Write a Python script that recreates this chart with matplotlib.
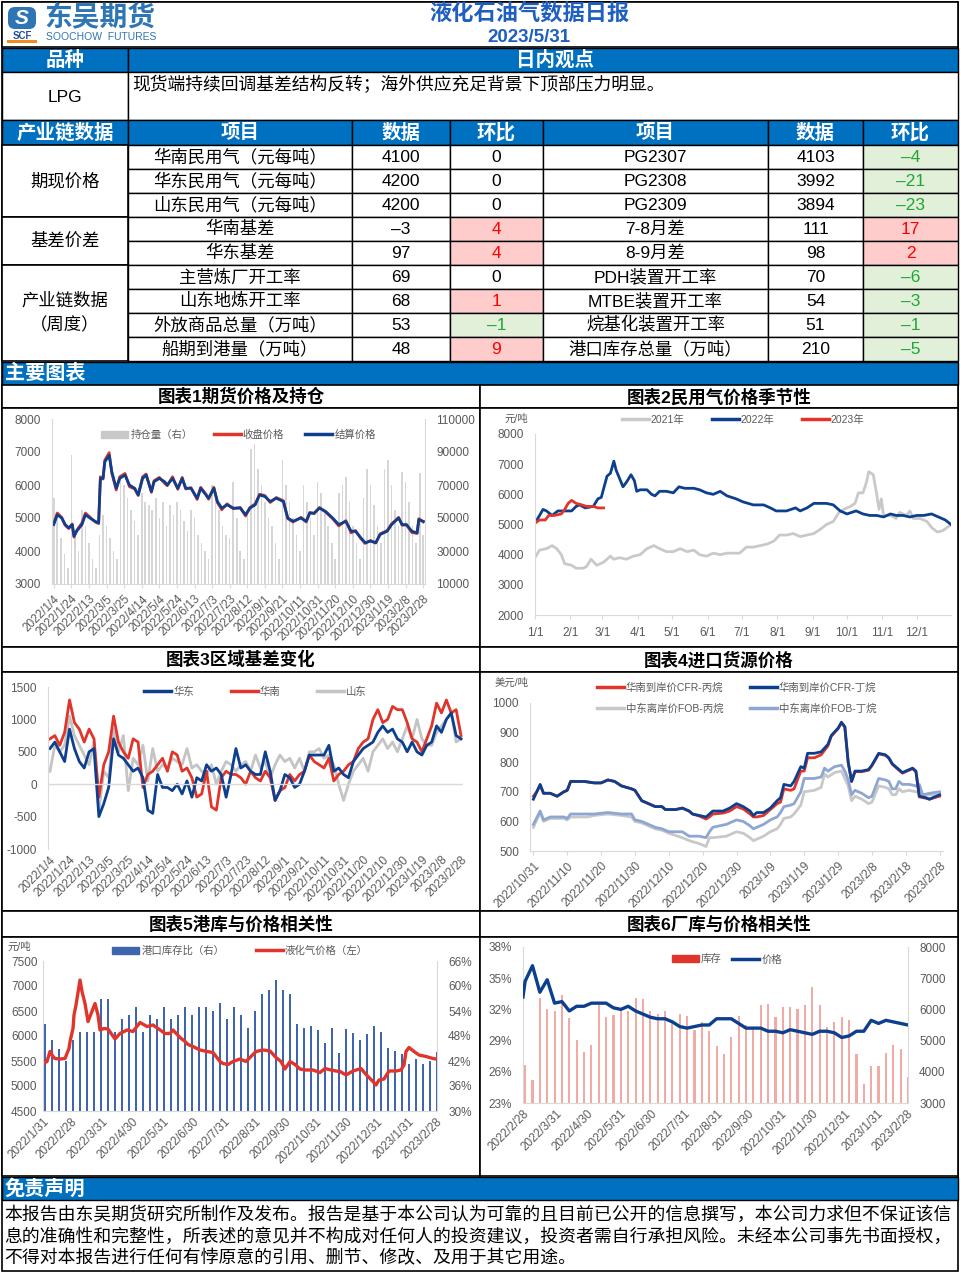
import numpy as np
import pandas as pd
import matplotlib
matplotlib.use('Agg')
import matplotlib.pyplot as plt
from matplotlib.patches import Rectangle, FancyBboxPatch, Patch
from matplotlib.lines import Line2D

plt.rcParams['font.family'] = ['Liberation Sans', 'Noto Sans CJK SC']
plt.rcParams['axes.unicode_minus'] = False

# ---------------- table data ----------------
view_text = '现货端持续回调基差结构反转；海外供应充足背景下顶部压力明显。'
left_items = ['华南民用气（元每吨）', '华东民用气（元每吨）', '山东民用气（元每吨）', '华南基差', '华东基差',
              '主营炼厂开工率', '山东地炼开工率', '外放商品总量（万吨）', '船期到港量（万吨）']
left_values = [4100, 4200, 4200, -3, 97, 69, 68, 53, 48]
left_change = [0, 0, 0, 4, 4, 0, 1, -1, 9]
right_items = ['PG2307', 'PG2308', 'PG2309', '7-8月差', '8-9月差', 'PDH装置开工率', 'MTBE装置开工率',
               '烷基化装置开工率', '港口库存总量（万吨）']
right_values = [4103, 3992, 3894, 111, 98, 70, 54, 51, 210]
right_change = [-4, -21, -23, 17, 2, -6, -3, -1, -5]
groups = [('期现价格', 0, 3), ('基差价差', 3, 5), ('产业链数据\n（周度）', 5, 9)]

# ---------------- chart 1: futures price & open interest ----------------
c1_base = '2022-01-04'
c1_days = [0, 4, 9, 13, 17, 21, 23, 26, 32, 36, 41, 47, 51, 53, 56, 58, 63, 66, 71, 75,
           81, 86, 92, 96, 101, 105, 111, 114, 120, 126, 129, 135, 141, 146, 150, 156, 163, 167, 173, 176,
           182, 186, 191, 197, 204, 212, 218, 223, 229, 234, 240, 246, 253, 261, 266, 272, 281, 287, 291, 296,
           302, 309, 317, 324, 332, 338, 343, 349, 354, 360, 366, 371, 379, 384, 392, 396, 401, 407, 413, 415, 420]
c1_settle = [4800, 5100, 5000, 4800, 4700, 4800, 4450, 4600, 4800, 5100, 5000, 4900, 4850, 6200, 6200,
             6700, 6900, 6400, 5900, 6200, 6300, 6000, 5900, 5700, 6200, 6300, 5800, 6100, 6200, 6100,
             6000, 6200, 5900, 6200, 5900, 5900, 5600, 5900, 5700, 5600, 5900, 5500, 5300, 5400, 5300,
             5300, 5100, 5300, 5400, 5700, 5650, 5500, 5600, 5500, 5000, 4900, 5000, 4900, 5150, 5150,
             5300, 5200, 5000, 4800, 4900, 4600, 4600, 4400, 4250, 4300, 4250, 4500, 4600, 4800, 5000,
             4800, 4800, 4600, 4550, 4950, 4900]
c1_close = [4850, 5150, 5020, 4780, 4680, 4820, 4420, 4620, 4850, 5150, 5030, 4880, 4830, 6250, 6180,
            6750, 6980, 6350, 5850, 6250, 6350, 5950, 5880, 5680, 6250, 6330, 5780, 6130, 6230, 6050,
            5980, 6250, 5870, 6230, 5880, 5920, 5560, 5930, 5720, 5570, 5930, 5470, 5250, 5430, 5280,
            5320, 5060, 5320, 5430, 5720, 5680, 5470, 5620, 5520, 4980, 4880, 5020, 4880, 5170, 5130,
            5320, 5180, 4980, 4760, 4920, 4550, 4620, 4380, 4230, 4320, 4240, 4520, 4620, 4820, 5020,
            4780, 4790, 4560, 4530, 4980, 4880]
c1_oi_days = list(range(0, 421, 4))
c1_oi = [62000, 50000, 38000, 28000, 20000, 88000, 40000, 30000, 55000, 45000, 35000, 25000, 20000, 40000,
         52000, 45000, 38000, 30000, 25000, 75000, 70000, 62000, 55000, 48000, 40000, 65000,
         60000, 58000, 55000, 62000, 50000, 60000, 45000, 58000, 52000, 60000, 55000, 48000,
         42000, 55000, 50000, 40000, 35000, 30000, 25000, 70000, 65000, 55000, 45000, 40000,
         38000, 72000, 50000, 30000, 25000, 55000, 92000, 95000, 80000, 70000, 60000, 50000,
         45000, 35000, 25000, 85000, 70000, 60000, 50000, 40000, 30000, 70000, 60000, 50000,
         40000, 72000, 65000, 55000, 45000, 35000, 25000, 65000, 70000, 75000, 60000, 45000,
         35000, 25000, 62000, 80000, 70000, 58000, 45000, 35000, 80000, 85000, 70000, 55000,
         45000, 78000, 72000, 60000, 45000, 35000, 77000, 40000]

# ---------------- chart 2: seasonal price ----------------
y2021_doy = [0, 4, 10, 15, 19, 23, 26, 32, 36, 42, 45, 49, 54, 60, 66, 69, 74, 80, 86, 92,
             98, 104, 109, 115, 121, 127, 133, 139, 144, 150, 156, 162, 168, 174, 179, 185, 191, 197, 203, 209,
             214, 220, 226, 232, 238, 244, 250, 255, 261, 266, 270, 276, 280, 283, 287, 290, 292, 296, 299, 301,
             303, 305, 311, 316, 319, 325, 328, 331, 337, 343, 347, 352, 357, 364]
y2021 = [3900, 4150, 4200, 4300, 4200, 4000, 3700, 3650, 3550, 3550, 3600, 3850, 3650, 3750, 3950,
         3850, 3900, 3850, 3950, 4000, 4200, 4300, 4200, 4100, 4100, 4200, 4100, 4150, 4000, 3950,
         4050, 4000, 4050, 4050, 4050, 4250, 4250, 4300, 4350, 4450, 4650, 4650, 4700, 4600, 4650,
         4700, 4850, 5000, 5100, 5400, 5500, 5600, 5700, 6050, 6050, 6400, 6750, 6650, 6000, 5500,
         5850, 5300, 5300, 5200, 5400, 5300, 5450, 5200, 5200, 5100, 4900, 4750, 4800, 5000]
y2022_doy = [0, 4, 7, 10, 15, 20, 26, 32, 36, 39, 44, 51, 55, 58, 63, 66, 69, 71, 77, 80,
             84, 87, 89, 92, 98, 102, 105, 109, 115, 121, 126, 131, 139, 144, 150, 156, 162, 168, 176, 182,
             191, 200, 206, 211, 220, 228, 232, 238, 244, 249, 255, 261, 267, 273, 277, 281, 287, 293, 299, 305,
             311, 316, 322, 328, 334, 340, 347, 353, 359, 364]
y2022 = [5050, 5300, 5500, 5450, 5300, 5450, 5450, 5450, 5600, 5650, 5550, 5600, 5850, 5900, 6600,
         6700, 7100, 6800, 6250, 6400, 6650, 6450, 6100, 6150, 6150, 6000, 5950, 6100, 6100, 6050,
         6250, 6200, 6200, 6150, 6050, 6000, 6100, 5950, 5850, 5750, 5650, 5650, 5550, 5450, 5450,
         5550, 5450, 5550, 5700, 5700, 5700, 5650, 5450, 5350, 5400, 5450, 5350, 5300, 5300, 5250,
         5350, 5300, 5300, 5250, 5300, 5300, 5350, 5250, 5150, 5000]
y2023_doy = [0, 4, 9, 12, 17, 23, 26, 29, 32, 36, 41, 45, 51, 55, 60]
y2023 = [5050, 5150, 5150, 5300, 5300, 5350, 5500, 5700, 5800, 5700, 5650, 5600, 5600, 5550, 5550]
month_labels = ['1/1', '2/1', '3/1', '4/1', '5/1', '6/1', '7/1', '8/1', '9/1', '10/1', '11/1', '12/1']

# ---------------- chart 3: regional basis ----------------
c3_days = list(range(0, 421, 5))
basis_east = [550, 650, 500, 350, 850, 550, 350, 250, 500, 550, -500, -300, -50, 700, 450, 400, 300, 200,
              250, 100, -400, -450, 150, -50, -50, -100, 0, -150, 50, -200, 100, 50, 300, 200, 250, 150,
              -200, 150, 550, 250, 300, 200, 150, 150, 500, 200, -250, -100, 150, 100, -50, 0, 200, 450,
              450, 450, 450, 600, 200, 250, 150, 100, 350, 450, 550, 600, 650, 800, 900, 800, 850, 700,
              650, 500, 650, 500, 450, 600, 650, 900, 800, 1000, 1100, 750, 700]
basis_south = [700, 750, 600, 800, 1300, 950, 850, 650, 850, 700, -200, 300, 500, 1050, 650, 500, 400, 700,
               650, -50, 150, 200, 300, 400, 200, 500, 450, 200, 250, 100, -200, -150, 200, -350, -400, 100,
               200, 150, 150, 100, 0, 200, 100, 50, 200, 100, -250, -100, -50, 150, 50, 150, 200, 450,
               350, 300, 250, 400, 50, 150, 200, 300, 350, 550, 650, 700, 1000, 1150, 950, 1000, 1200, 1150,
               1150, 950, 700, 650, 500, 700, 900, 1250, 1100, 1300, 1100, 1150, 750]
basis_sd = [200, 600, 500, 600, 1050, 750, 600, 450, 300, 650, -400, 200, 100, 850, 500, 750, -100, 400,
            300, 600, 50, 550, 200, 300, 250, 400, 350, 300, 550, 250, 300, 200, 150, 300, 0, 200,
            350, 300, 200, 300, 350, 200, 450, 250, 350, 100, 300, 450, 350, 400, 250, 400, 200, 500,
            500, 550, 400, 450, 300, 0, -250, 0, 200, 300, 400, 200, 500, 600, 700, 550, 650, 500,
            700, 900, 700, 1000, 700, 600, 600, 800, 900, 1000, 1100, 650, 700]

# ---------------- chart 4: import prices ----------------
c4_base = '2022-10-31'
cfr_days = [0, 1, 2, 3, 5, 7, 9, 10, 11, 15, 18, 20, 22, 24, 26, 29, 30, 32, 34, 36,
            38, 39, 42, 44, 46, 47, 49, 51, 52, 53, 56, 58, 60, 62, 64, 65, 66, 68, 70, 72,
            73, 74, 76, 77, 79, 80, 81, 83, 85, 87, 88, 90, 91, 92, 93, 94, 95, 97, 99, 100,
            102, 104, 105, 106, 107, 109, 110, 112, 113, 114, 116, 117, 119, 120]
cfr_butane = [675, 700, 725, 695, 695, 685, 700, 705, 735, 735, 730, 730, 740, 735, 720, 710, 705, 670, 660, 650,
              650, 640, 640, 645, 635, 625, 620, 615, 625, 635, 635, 645, 660, 650, 635, 620, 630, 630, 645, 670,
              680, 725, 720, 735, 785, 780, 830, 830, 835, 860, 890, 915, 935, 920, 800, 735, 770, 770, 775, 790,
              830, 825, 815, 795, 785, 765, 770, 780, 770, 685, 680, 675, 685, 690]
cfr_propane = [685, 700, 722, 695, 695, 685, 700, 705, 735, 735, 730, 730, 740, 735, 720, 710, 705, 670, 660, 650,
               650, 640, 640, 645, 635, 625, 618, 608, 615, 625, 628, 635, 650, 642, 625, 615, 615, 620, 640, 660,
               665, 710, 705, 710, 770, 770, 815, 815, 825, 855, 888, 913, 933, 918, 798, 735, 768, 768, 773, 788,
               828, 823, 813, 793, 783, 763, 768, 778, 768, 683, 678, 675, 682, 685]
fob_days = [0, 2, 3, 5, 9, 10, 11, 15, 16, 18, 22, 26, 29, 30, 32, 34, 36, 38, 40, 44,
            46, 49, 51, 52, 53, 57, 60, 62, 64, 65, 68, 70, 72, 73, 74, 76, 77, 79, 80, 83,
            85, 86, 87, 89, 91, 92, 93, 94, 95, 97, 99, 100, 102, 104, 105, 106, 107, 108, 109, 111,
            113, 114, 115, 117, 120]
fob_butane = [590, 635, 605, 615, 615, 610, 625, 625, 625, 625, 630, 625, 625, 605, 600, 590, 580, 575, 565, 565,
              550, 550, 545, 565, 580, 590, 605, 600, 585, 575, 590, 605, 615, 630, 650, 655, 660, 700, 745, 745,
              750, 780, 770, 785, 790, 770, 740, 690, 705, 695, 680, 685, 745, 740, 735, 710, 710, 735, 725, 725,
              720, 725, 690, 695, 700]
fob_propane = [580, 630, 600, 610, 610, 605, 615, 615, 615, 620, 625, 620, 615, 600, 595, 585, 575, 570, 560, 545,
               535, 525, 515, 545, 545, 550, 565, 560, 545, 535, 550, 565, 575, 590, 610, 615, 625, 655, 700, 705,
               715, 760, 750, 765, 770, 745, 720, 670, 685, 675, 660, 665, 720, 715, 710, 690, 690, 710, 700, 705,
               700, 700, 690, 690, 690]

# ---------------- chart 5: port stock vs price ----------------
port_dates = pd.date_range('2022-02-02', periods=57, freq='7D')
port_ratio = [51, 47, 45, 42, 47, 49, 49, 49, 57, 57, 49, 52, 53, 55, 49, 53, 52, 55, 52, 53,
              55, 53, 55, 55, 54, 56, 52, 55, 53, 50, 54, 58, 59, 61.4, 59, 58, 51, 50, 50.5, 49.4,
              46.4, 50, 44, 49.6, 48.8, 47, 48.5, 50.5, 48.9, 45.2, 44.4, 43.6, 41.3, 42.6, 41.2, 42, 44.2]
lpg_days = [0, 4, 7, 10, 12, 17, 22, 26, 27, 30, 31, 33, 37, 39, 42, 45, 47, 52, 55, 57,
            61, 65, 72, 77, 84, 90, 97, 104, 110, 115, 122, 127, 130, 137, 142, 145, 150, 157, 164, 170,
            177, 180, 185, 190, 197, 203, 210, 213, 220, 227, 233, 238, 242, 247, 252, 257, 263, 270, 277, 282,
            288, 293, 297, 303, 310, 318, 323, 330, 333, 336, 341, 346, 353, 358, 361, 363, 366, 371, 376, 383,
            390, 393]
lpg_price = [5450, 5490, 5690, 5590, 5550, 5540, 5550, 5750, 5890, 6150, 6420, 6620, 7120, 6890, 6650,
             6290, 6390, 6650, 6420, 6120, 6150, 6140, 5940, 6050, 6120, 6090, 6270, 6190, 6220, 6150,
             6050, 6050, 6120, 5970, 5890, 5830, 5790, 5720, 5690, 5670, 5490, 5450, 5430, 5490, 5540,
             5490, 5630, 5690, 5720, 5700, 5570, 5490, 5340, 5490, 5430, 5340, 5320, 5320, 5270, 5350,
             5320, 5300, 5290, 5220, 5300, 5350, 5230, 5090, 5020, 5120, 5140, 5300, 5300, 5320, 5420,
             5690, 5770, 5690, 5620, 5590, 5550, 5540]

# ---------------- chart 6: plant stock vs price ----------------
plant_dates = pd.date_range('2022-03-02', periods=53, freq='7D')
plant_ratio = [26.7, 25.2, 33.1, 32.0, 31.8, 33.4, 31.2, 29.1, 27.9, 28.6, 32.4, 31.3, 31.5, 31.8, 31.8,
               33.1, 33.0, 31.8, 31.6, 31.8, 30.8, 31.6, 31.4, 30.0, 30.8, 29.9, 28.5, 27.7, 29.3, 31.4,
               30.5, 30.3, 32.4, 32.5, 31.3, 32.2, 32.2, 32.0, 32.4, 34.2, 32.4, 30.3, 30.8, 31.3, 31.0,
               27.7, 24.8, 26.6, 26.6, 27.8, 28.6, 28.2, 25.5]
plant_price = [6400, 6900, 7400, 6550, 6950, 6200, 6250, 5950, 6100, 6100, 6200, 6200, 6200, 6050, 6000,
               6100, 5950, 5850, 5750, 5700, 5700, 5600, 5450, 5400, 5450, 5500, 5500, 5700, 5700, 5700,
               5550, 5400, 5400, 5400, 5300, 5300, 5250, 5350, 5300, 5250, 5200, 5300, 5300, 5250, 5100,
               5150, 5300, 5300, 5650, 5550, 5650, 5600, 5550, 5500]

disclaimer = ['本报告由东吴期货研究所制作及发布。报告是基于本公司认为可靠的且目前已公开的信息撰写，本公司力求但不保证该信',
              '息的准确性和完整性，所表述的意见并不构成对任何人的投资建议，投资者需自行承担风险。未经本公司事先书面授权，',
              '不得对本报告进行任何有悖原意的引用、删节、修改、及用于其它用途。']

# ---------------- styles ----------------
W, H = 961, 1273
HDR = '#0070C0'
NAVY = '#0D3F8F'
RED = '#E0352B'
LGRAY = '#C9C9C9'
TICK = '#595959'
AXIS = '#D9D9D9'
TS = 8.5  # tick label size

fig = plt.figure(figsize=(W / 100, H / 100), dpi=100)
bg = fig.add_axes([0, 0, 1, 1])
bg.set_xlim(0, W)
bg.set_ylim(H, 0)
bg.axis('off')


def box(x0, y0, x1, y1, fc='white', lw=1.0, ec='black', z=1):
    bg.add_patch(Rectangle((x0, y0), x1 - x0, y1 - y0, facecolor=fc, edgecolor=ec, linewidth=lw, zorder=z))


def txt(x, y, s, size=12, color='black', weight='normal', ha='center', va='center', **kw):
    bg.text(x, y, s, fontsize=size, color=color, fontweight=weight, ha=ha, va=va, zorder=5, **kw)


def panel(x0, y0, x1, y1):
    return fig.add_axes([x0 / W, 1 - y1 / H, (x1 - x0) / W, (y1 - y0) / H])


def fmt(v):
    return '–' + str(-v) if v < 0 else str(v)


def style(ax):
    for s in ['top', 'right']:
        ax.spines[s].set_visible(False)
    ax.spines['left'].set_color(AXIS)
    ax.spines['bottom'].set_color(AXIS)
    ax.tick_params(colors=TICK, labelsize=TS, length=0)
    ax.tick_params(axis='y', pad=8)
    ax.patch.set_visible(False)


def right_axis(axb):
    for s in ['top', 'left', 'bottom']:
        axb.spines[s].set_visible(False)
    axb.spines['right'].set_color(AXIS)
    axb.tick_params(colors=TICK, labelsize=TS, length=0, pad=8)


def legend(ax, handles, labels, anchor, ncol, loc='upper center', spacing=2.0, lsp=0.5):
    return ax.legend(handles, labels, loc=loc, bbox_to_anchor=anchor, ncol=ncol, frameon=False,
                     fontsize=7.5, labelcolor=TICK, handlelength=2.6, columnspacing=spacing,
                     handletextpad=0.2, borderaxespad=0, labelspacing=lsp)


def date_label(ts):
    return f'{ts.year}/{ts.month}/{ts.day}'


def date_ticks(ax, ticks, labels):
    ax.set_xticks(ticks)
    ax.set_xticklabels(labels, rotation=45, ha='right', rotation_mode='anchor')


# ---------------- header ----------------
box(2, 2, 958, 1271, fc='none', lw=1.2)
box(2, 2, 958, 47, lw=1.2)
bg.add_patch(FancyBboxPatch((8, 7), 28, 22, boxstyle='round,pad=0,rounding_size=7', fc='#2E75B6', ec='none', zorder=3))
txt(22, 18, 'S', size=15, color='white', weight='bold', style='italic')
txt(22, 36, 'SCF', size=7, color='#1F4E9A', weight='bold')
bg.add_patch(Rectangle((7, 40), 30, 2.5, fc='#F08C1E', ec='none', zorder=3))
txt(44, 19, '东吴期货', size=20, color='#2E75B6', weight='bold', ha='left')
txt(46, 37, 'SOOCHOW  FUTURES', size=7.5, color='#2E75B6', ha='left')
txt(529, 14, '液化石油气数据日报', size=16, color='#1F5FBF', weight='bold')
txt(529, 37, '2023/5/31', size=13.5, color='#1F5FBF', weight='bold')

# ---------------- view row ----------------
box(2, 48, 128, 72, fc=HDR)
box(128, 48, 958, 72, fc=HDR)
txt(65, 60, '品种', size=14, color='white', weight='bold')
txt(555, 60, '日内观点', size=14, color='white', weight='bold')
box(2, 72, 128, 120)
box(128, 72, 958, 120)
txt(65, 97, 'LPG', size=12.5)
txt(132, 85, view_text, size=12.8, ha='left')

# ---------------- data table ----------------
cols = [2, 128, 352, 450, 543, 768, 863, 958]
hdr_labels = ['产业链数据', '项目', '数据', '环比', '项目', '数据', '环比']
for i, lab in enumerate(hdr_labels):
    box(cols[i], 120, cols[i + 1], 145, fc=HDR)
    txt((cols[i] + cols[i + 1]) / 2, 133, lab, size=14, color='white', weight='bold')


def change_cell(x0, x1, y0, v):
    if v > 0:
        fc, tc = '#FFCCCC', '#FF0000'
    elif v < 0:
        fc, tc = '#E2F0D9', '#1FA637'
    else:
        fc, tc = 'white', 'black'
    box(x0, y0, x1, y0 + 24, fc=fc)
    txt((x0 + x1) / 2, y0 + 12, fmt(v), size=12.5, color=tc)


for r in range(9):
    y0 = 145 + r * 24
    yc = y0 + 12
    box(cols[1], y0, cols[2], y0 + 24)
    txt((cols[1] + cols[2]) / 2, yc, left_items[r], size=12.5)
    box(cols[2], y0, cols[3], y0 + 24)
    txt((cols[2] + cols[3]) / 2, yc, fmt(left_values[r]), size=12.5)
    change_cell(cols[3], cols[4], y0, left_change[r])
    box(cols[4], y0, cols[5], y0 + 24)
    txt((cols[4] + cols[5]) / 2, yc, right_items[r], size=12.5)
    box(cols[5], y0, cols[6], y0 + 24)
    txt((cols[5] + cols[6]) / 2, yc, fmt(right_values[r]), size=12.5)
    change_cell(cols[6], cols[7], y0, right_change[r])

for name, a, b in groups:
    box(cols[0], 145 + a * 24, cols[1], 145 + b * 24, lw=1.2)
    txt(65, 145 + (a + b) * 12, name, size=12.5, linespacing=1.6)

# ---------------- chart section frames ----------------
box(2, 362, 958, 385, fc=HDR)
txt(5, 373, '主要图表', size=14.5, color='white', weight='bold', ha='left')
titles = [('图表1期货价格及持仓', '图表2民用气价格季节性'), ('图表3区域基差变化', '图表4进口货源价格'),
          ('图表5港库与价格相关性', '图表6厂库与价格相关性')]
rows = [(385, 408, 647), (647, 672, 911), (911, 937, 1176)]
for (ta, tb), (y0, y1, y2) in zip(titles, rows):
    box(2, y0, 480, y1, lw=1.2)
    box(480, y0, 958, y1, lw=1.2)
    box(2, y1, 480, y2, lw=1.2)
    box(480, y1, 958, y2, lw=1.2)
    txt(241, (y0 + y1) / 2, ta, size=12.6, weight='bold')
    txt(719, (y0 + y1) / 2, tb, size=12.6, weight='bold')

box(2, 1177, 958, 1200, fc=HDR)
txt(5, 1189, '免责声明', size=14.5, color='white', weight='bold', ha='left')
for i, line in enumerate(disclaimer):
    txt(4, 1215 + i * 22, line, size=12.85, ha='left')

# ---------------- chart 1 ----------------
ax1 = panel(52, 419, 425, 584)
ax1b = ax1.twinx()
ax1b.bar(c1_oi_days, c1_oi, width=1.8, color='#D6D6D6', linewidth=0)
ax1b.set_ylim(10000, 110000)
ax1b.set_yticks(range(10000, 110001, 20000))
ax1.set_zorder(ax1b.get_zorder() + 1)
ax1.plot(c1_days, c1_close, color=RED, lw=2)
ax1.plot(c1_days, c1_settle, color=NAVY, lw=2)
ax1.set_ylim(3000, 8000)
ax1.set_yticks(range(3000, 8001, 1000))
ax1.set_xlim(-2, 422)
c1_ticks = list(range(0, 421, 20))
c1_labels = [date_label(pd.Timestamp(c1_base) + pd.Timedelta(days=d)) for d in c1_ticks]
date_ticks(ax1, c1_ticks, c1_labels)
style(ax1)
ax1.tick_params(axis='x', length=3, color=AXIS)
right_axis(ax1b)
legend(ax1, [Patch(color='#C8C8C8'), Line2D([], [], color=RED, lw=2.5), Line2D([], [], color=NAVY, lw=2.5)],
       ['持仓量（右）', '收盘价格', '结算价格'], (0.5, 0.96), 3)

# ---------------- chart 2 ----------------
ax2 = panel(535, 434, 951, 615)
ax2.plot(y2021_doy, y2021, color=LGRAY, lw=2)
ax2.plot(y2022_doy, y2022, color=NAVY, lw=2)
ax2.plot(y2023_doy, y2023, color=RED, lw=2)
ax2.set_ylim(2000, 8000)
ax2.set_xlim(0, 364)
month_starts = [0, 31, 59, 90, 120, 151, 181, 212, 243, 273, 304, 334]
ax2.set_xticks(month_starts)
ax2.set_xticklabels(month_labels)
style(ax2)
ax2.tick_params(axis='x', length=3, color=AXIS, pad=6)
txt(516, 419, '元/吨', size=7.5, color=TICK)
legend(ax2, [Line2D([], [], color=LGRAY, lw=2.5), Line2D([], [], color=NAVY, lw=2.5),
             Line2D([], [], color=RED, lw=2.5)], ['2021年', '2022年', '2023年'], (0.5, 1.13), 3, spacing=2.6)

# ---------------- chart 3 ----------------
ax3 = panel(48, 687, 463, 849)
ax3.plot(c3_days, basis_sd, color='#C4C4C4', lw=2)
ax3.plot(c3_days, basis_south, color=RED, lw=2)
ax3.plot(c3_days, basis_east, color=NAVY, lw=2)
ax3.axhline(0, color=AXIS, lw=1)
ax3.set_ylim(-1000, 1500)
ax3.set_yticks(range(-1000, 1501, 500))
ax3.set_xlim(-2, 422)
date_ticks(ax3, c1_ticks, c1_labels)
style(ax3)
ax3.spines['bottom'].set_visible(False)
legend(ax3, [Line2D([], [], color=NAVY, lw=2.5), Line2D([], [], color=RED, lw=2.5),
             Line2D([], [], color='#C4C4C4', lw=2.5)], ['华东', '华南', '山东'], (0.5, 1.03), 3, spacing=3.5)

# ---------------- chart 4 ----------------
ax4 = panel(530, 703, 943, 851)
ax4.plot(fob_days, fob_propane, color='#C8C8C8', lw=2)
ax4.plot(fob_days, fob_butane, color='#8EA6D2', lw=2)
ax4.plot(cfr_days, cfr_propane, color=RED, lw=2)
ax4.plot(cfr_days, cfr_butane, color=NAVY, lw=2)
ax4.set_ylim(500, 1000)
ax4.set_yticks(range(500, 1001, 100))
ax4.set_xlim(-1, 121)
c4_ticks = list(range(0, 121, 10))
date_ticks(ax4, c4_ticks, [date_label(pd.Timestamp(c4_base) + pd.Timedelta(days=d)) for d in c4_ticks])
style(ax4)
ax4.tick_params(axis='x', length=3, color=AXIS)
txt(512, 683, '美元/吨', size=7.5, color=TICK)
legend(ax4, [Line2D([], [], color=RED, lw=2.5), Line2D([], [], color='#C8C8C8', lw=2.5),
             Line2D([], [], color=NAVY, lw=2.5), Line2D([], [], color='#8EA6D2', lw=2.5)],
       ['华南到岸价CFR-丙烷', '中东离岸价FOB-丙烷', '华南到岸价CFR-丁烷', '中东离岸价FOB-丁烷'],
       (0.5, 1.165), 2, spacing=2.5, lsp=0.95)

# ---------------- chart 5 ----------------
ax5 = panel(43, 961, 437, 1111)
ax5b = ax5.twinx()
ax5b.bar(port_dates, port_ratio, width=2.2, color='#3F65AE', linewidth=0)
ax5b.set_ylim(30, 66)
ax5b.set_yticks(range(30, 67, 6))
ax5b.set_yticklabels([f'{v}%' for v in range(30, 67, 6)])
ax5.set_zorder(ax5b.get_zorder() + 1)
lpg_dates = pd.Timestamp('2022-01-31') + pd.to_timedelta(lpg_days, unit='D')
ax5.plot(lpg_dates, lpg_price, color=RED, lw=2.4)
ax5.set_ylim(4500, 7500)
ax5.set_yticks(range(4500, 7501, 500))
ax5.set_xlim(pd.Timestamp('2022-01-31'), pd.Timestamp('2023-03-01'))
month_ends5 = pd.date_range('2022-01-31', '2023-02-28', freq='ME')
date_ticks(ax5, month_ends5, [date_label(d) for d in month_ends5])
style(ax5)
ax5.tick_params(axis='y', pad=4)
right_axis(ax5b)
txt(19, 947, '元/吨', size=7.5, color=TICK)
legend(ax5, [Patch(color='#3F65AE'), Line2D([], [], color=RED, lw=2.5)],
       ['港口库存比（右）', '液化气价格（左）'], (0.5, 1.13), 2, spacing=3.0)

# ---------------- chart 6 ----------------
ax6 = panel(523, 947, 908, 1103)
ax6.bar(plant_dates, plant_ratio, width=2.0, color='#F2AAA4', linewidth=0)
ax6.set_ylim(23, 38)
ax6.set_yticks(range(23, 39, 3))
ax6.set_yticklabels([f'{v}%' for v in range(23, 39, 3)])
ax6b = ax6.twinx()
price6_dates = pd.DatetimeIndex([pd.Timestamp('2022-02-28')]).append(plant_dates)
ax6b.plot(price6_dates, plant_price, color=NAVY, lw=2.4)
ax6b.set_ylim(3000, 8000)
ax6b.set_yticks(range(3000, 8001, 1000))
ax6.set_xlim(pd.Timestamp('2022-02-28'), pd.Timestamp('2023-03-01'))
month_ends6 = pd.date_range('2022-02-28', '2023-02-28', freq='ME')
date_ticks(ax6, month_ends6, [date_label(d) for d in month_ends6])
style(ax6)
right_axis(ax6b)
legend(ax6b, [Patch(color='#E0352B'), Line2D([], [], color=NAVY, lw=2.5)], ['库存', '价格'],
       (0.53, 0.98), 2, spacing=1.0)

fig.savefig('out.png', dpi=100)
